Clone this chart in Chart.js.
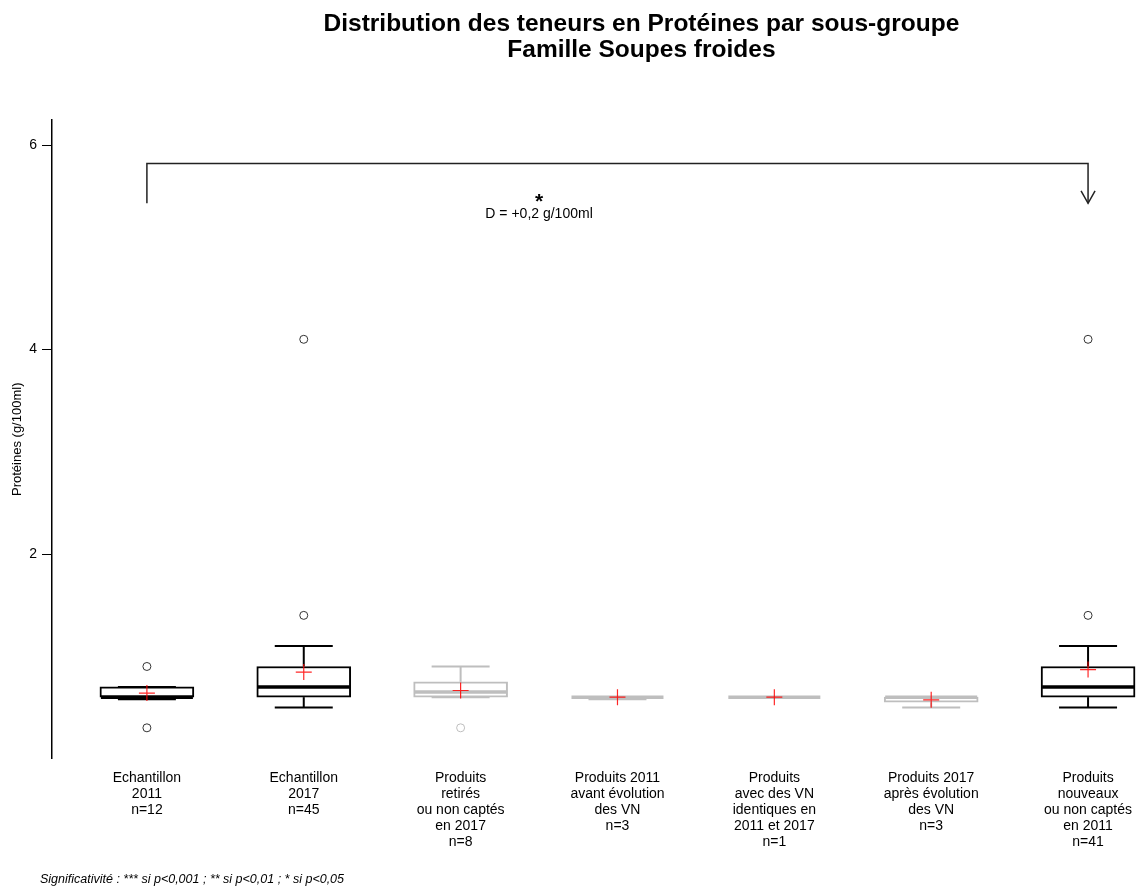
<!DOCTYPE html>
<html lang="fr">
<head>
<meta charset="utf-8">
<title>Distribution des teneurs en Protéines par sous-groupe</title>
<script src="https://cdn.jsdelivr.net/npm/chart.js@4.4.1/dist/chart.umd.min.js"></script>
<style>
  html, body { margin: 0; padding: 0; background: #fff; overflow: hidden; }
  #wrap { width: 1140px; height: 891px; overflow: hidden; }
  canvas { display: block; }
</style>
</head>
<body>
<div id="wrap"><canvas id="chart" width="1240" height="891"></canvas></div>
<script>
const groupNames = [
  ['Echantillon', '2011'],
  ['Echantillon', '2017'],
  ['Produits', 'retirés', 'ou non captés', 'en 2017'],
  ['Produits 2011', 'avant évolution', 'des VN'],
  ['Produits', 'avec des VN', 'identiques en', '2011 et 2017'],
  ['Produits 2017', 'après évolution', 'des VN'],
  ['Produits', 'nouveaux', 'ou non captés', 'en 2011']
];
const groupCounts = [12, 45, 8, 3, 1, 3, 41];
const compared = [true, true, false, false, false, false, true];

const whiskerLow = [0.58, 0.5, 0.6, 0.58, 0.6, 0.5, 0.5];
const quartile1 = [0.6, 0.6, 0.6, 0.6, 0.6, 0.55, 0.6];
const medians = [0.6, 0.7, 0.65, 0.6, 0.6, 0.6, 0.7];
const quartile3 = [0.7, 0.9, 0.75, 0.6, 0.6, 0.6, 0.9];
const whiskerHigh = [0.7, 1.1, 0.9, 0.6, 0.6, 0.6, 1.1];
const means = [0.64, 0.845, 0.665, 0.6, 0.6, 0.574, 0.87];
const outliers = [[0.9, 0.3], [1.4, 4.1], [0.3], [], [], [], [1.4, 4.1]];

const yTicks = [2, 4, 6];

// test between the two samples (group index, 1-based)
const testFrom = 1;
const testTo = 7;
const testStars = '*';
const testText = 'D = +0,2 g/100ml';
const footnote = 'Significativité : *** si p<0,001 ; ** si p<0,01 ; * si p<0,05';

(function () {
  const FONT = "'Liberation Sans', Arial, Helvetica, sans-serif";
  const BLACK = '#000000';
  const GREY = '#bebebe';
  const BOX_PX = 94;
  const CAP_PX = 58;
  const BRACKET_TOP = 5.82;
  const BRACKET_BOTTOM = 5.43;
  const LABEL_X = 3.5;
  const LABEL_Y = 5.32;

  Chart.defaults.font.family = FONT;
  Chart.defaults.color = '#000';

  const colorOf = i => (compared[i] ? BLACK : GREY);
  const outlierColorOf = i => (compared[i] ? '#333333' : GREY);

  const tickLabels = groupNames.map((lines, i) => lines.concat(`n=${groupCounts[i]}`));

  const boxData = quartile1.map((q, i) => ({ x: i + 1, y: [q, quartile3[i]] }));
  const outlierPoints = [];
  const outlierColors = [];
  outliers.forEach((vals, i) => {
    vals.forEach(v => {
      outlierPoints.push({ x: i + 1, y: v });
      outlierColors.push(outlierColorOf(i));
    });
  });
  const meanPoints = means.map((m, i) => ({ x: i + 1, y: m }));

  function seg(ctx, x1, y1, x2, y2) {
    ctx.beginPath();
    ctx.moveTo(x1, y1);
    ctx.lineTo(x2, y2);
    ctx.stroke();
  }

  const boxParts = {
    id: 'boxParts',
    afterDatasetDraw(chart, args) {
      if (args.index !== 0) return;
      const { ctx, scales: { x, y } } = chart;
      ctx.save();
      medians.forEach((m, i) => {
        const cx = x.getPixelForValue(i + 1);
        const yHi = y.getPixelForValue(whiskerHigh[i]);
        const yLo = y.getPixelForValue(whiskerLow[i]);
        ctx.strokeStyle = colorOf(i);
        ctx.lineWidth = 2;
        seg(ctx, cx, y.getPixelForValue(quartile3[i]), cx, yHi);
        seg(ctx, cx, y.getPixelForValue(quartile1[i]), cx, yLo);
        seg(ctx, cx - CAP_PX / 2, yHi, cx + CAP_PX / 2, yHi);
        seg(ctx, cx - CAP_PX / 2, yLo, cx + CAP_PX / 2, yLo);
        ctx.lineWidth = 3.5;
        const ym = y.getPixelForValue(m);
        seg(ctx, cx - BOX_PX / 2 + 1, ym, cx + BOX_PX / 2 - 1, ym);
      });
      ctx.restore();
    }
  };

  const annotations = {
    id: 'annotations',
    afterDraw(chart) {
      const { ctx, scales: { x, y } } = chart;
      const x1 = x.getPixelForValue(testFrom);
      const x2 = x.getPixelForValue(testTo);
      const yt = y.getPixelForValue(BRACKET_TOP);
      const yb = y.getPixelForValue(BRACKET_BOTTOM);
      ctx.save();
      ctx.strokeStyle = '#222';
      ctx.lineWidth = 1.5;
      ctx.beginPath();
      ctx.moveTo(x1, yb);
      ctx.lineTo(x1, yt);
      ctx.lineTo(x2, yt);
      ctx.lineTo(x2, yb);
      ctx.stroke();
      ctx.beginPath();
      ctx.moveTo(x2 - 7, yb - 12.5);
      ctx.lineTo(x2, yb);
      ctx.lineTo(x2 + 7, yb - 12.5);
      ctx.stroke();

      const lx = x.getPixelForValue(LABEL_X);
      const ly = y.getPixelForValue(LABEL_Y);
      ctx.fillStyle = '#000';
      ctx.textAlign = 'center';
      ctx.textBaseline = 'middle';
      ctx.font = `bold 21px ${FONT}`;
      ctx.fillText(testStars, lx, ly - 12);
      ctx.font = `14px ${FONT}`;
      ctx.fillText(testText, lx, ly);

      ctx.textAlign = 'left';
      ctx.font = `italic 12.5px ${FONT}`;
      ctx.fillText(footnote, 40, 880);
      ctx.restore();
    }
  };

  new Chart(document.getElementById('chart'), {
    type: 'bar',
    data: {
      datasets: [
        {
          type: 'bar',
          data: boxData,
          backgroundColor: '#ffffff',
          borderColor: quartile1.map((q, i) => colorOf(i)),
          borderWidth: 2,
          borderSkipped: false,
          barThickness: BOX_PX,
          order: 3
        },
        {
          type: 'scatter',
          data: outlierPoints,
          pointStyle: 'circle',
          pointRadius: 4,
          pointBorderWidth: 1,
          pointBorderColor: outlierColors,
          pointBackgroundColor: 'rgba(0,0,0,0)',
          order: 2
        },
        {
          type: 'scatter',
          data: meanPoints,
          pointStyle: 'cross',
          pointRadius: 8,
          pointBorderWidth: 1.2,
          pointBorderColor: 'rgba(255,0,0,0.85)',
          order: 1
        }
      ]
    },
    options: {
      responsive: false,
      animation: false,
      events: [],
      layout: { padding: { left: 0, right: 8, top: 0, bottom: 0 } },
      scales: {
        x: {
          type: 'linear',
          position: 'bottom',
          min: 0.395,
          max: 7.91,
          offset: false,
          afterBuildTicks: scale => { scale.ticks = groupNames.map((n, i) => ({ value: i + 1 })); },
          afterFit: scale => { scale.height = 132.5; },
          grid: { display: false, drawTicks: false },
          border: { display: false },
          ticks: {
            autoSkip: false,
            maxRotation: 0,
            minRotation: 0,
            padding: 12,
            color: '#000',
            font: { size: 14, lineHeight: 16 / 14 },
            callback: v => tickLabels[v - 1]
          }
        },
        y: {
          min: 0,
          max: 6.245,
          afterBuildTicks: scale => { scale.ticks = yTicks.map(v => ({ value: v })); },
          afterFit: scale => { scale.width = 52; },
          grid: { drawOnChartArea: false, drawTicks: true, tickLength: 10, color: '#000', lineWidth: 1 },
          border: { display: true, color: '#000', width: 1.5 },
          ticks: { padding: 5, color: '#000', font: { size: 14 } },
          title: {
            display: true,
            text: 'Protéines (g/100ml)',
            color: '#000',
            font: { size: 13 },
            padding: { top: 10, bottom: 0 }
          }
        }
      },
      plugins: {
        legend: { display: false },
        tooltip: { enabled: false },
        title: {
          display: true,
          fullSize: false,
          text: ['Distribution des teneurs en Protéines par sous-groupe', 'Famille Soupes froides'],
          color: '#000',
          font: { size: 24.5, weight: 'bold', lineHeight: 26 / 24.5 },
          padding: { top: 11, bottom: 57 }
        }
      }
    },
    plugins: [boxParts, annotations]
  });
})();
</script>
</body>
</html>
